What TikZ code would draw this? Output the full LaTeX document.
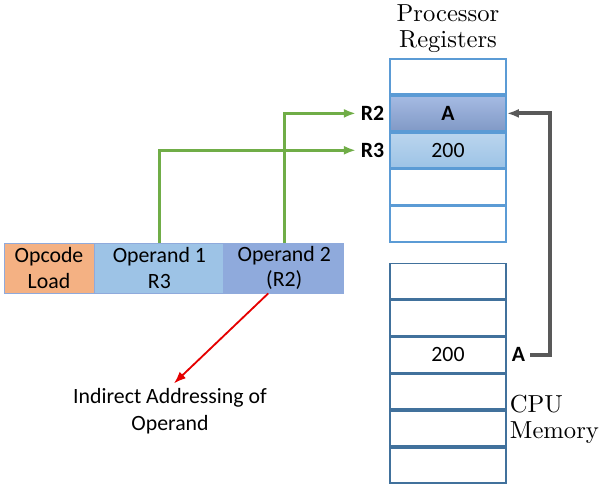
\documentclass[tikz,border=0pt]{standalone}
\usepackage{fontspec}
\newfontfamily\carlito{Carlito}
\newfontfamily\capfont{lmroman10-regular}[Extension=.otf]
\usetikzlibrary{arrows.meta,positioning}
\definecolor{opcodefill}{HTML}{F4B183}
\definecolor{operandA}{HTML}{9DC3E6}
\definecolor{operandB}{HTML}{8FAADC}
\definecolor{fieldline}{HTML}{8FAADC}
\definecolor{regline}{HTML}{5B9BD5}
\definecolor{memline}{HTML}{41719C}
\definecolor{linkgreen}{HTML}{70AD47}
\definecolor{linkgray}{HTML}{595959}

\begin{document}
\begin{tikzpicture}[
  x=0.025cm, y=-0.025cm,
  node distance=0pt,
  field/.style={draw=fieldline, line width=0.6pt, minimum height=1.25cm, align=center, inner sep=1pt, font=\carlito\fontsize{15.5}{18}\selectfont},
  cell/.style={draw=regline, line width=1.2pt, minimum width=2.9cm, minimum height=0.88cm, font=\carlito\fontsize{15.5}{18}\selectfont},
  memcell/.style={cell, draw=memline},
  tag/.style={font=\carlito\bfseries\fontsize{15.5}{18}\selectfont},
  caption/.style={align=center, inner sep=2pt, font=\capfont\fontsize{17.5}{18.5}\selectfont},
  note/.style={align=center, font=\carlito\fontsize{15.5}{19}\selectfont},
  greenlink/.style={->, draw=linkgreen, line width=2.1pt},
  graylink/.style={->, draw=linkgray, line width=2.8pt},
  redlink/.style={->, draw=red!90!black, line width=1.3pt},
  >={Latex[length=3mm]}
]
\useasboundingbox (0,0) rectangle (600,490);

% instruction
\node[field, fill=opcodefill, minimum width=2.25cm] (opc) at (49,268) {Opcode\\Load};
\node[field, fill=operandA, minimum width=3.225cm, right=of opc] (op1) {Operand 1\\R3};
\node[field, fill=operandB, minimum width=2.975cm, right=of op1] (op2) {Operand 2\\(R2)};

% processor registers
\node[cell] (reg1) at (448,76.5) {};
\node[cell, below=of reg1, top color=operandB!80!white, bottom color=operandB!90!black] (reg2) {\bfseries A};
\node[cell, below=of reg2, top color=operandA!70!white, bottom color=operandA] (reg3) {200};
\node[cell, below=of reg3] (reg4) {};
\node[cell, below=of reg4] (reg5) {};
\node[caption, above=2pt of reg1] (regcap) {Processor\\Registers};
\node[tag, left=of reg2] (r2) {R2};
\node[tag, left=of reg3] (r3) {R3};

% cpu memory
\node[memcell] (mem1) at (448,281) {};
\node[memcell, below=of mem1] (mem2) {};
\node[memcell, below=of mem2] (mem3) {200};
\node[memcell, below=of mem3] (mem4) {};
\node[memcell, below=of mem4] (mem5) {};
\node[memcell, below=of mem5] (mem6) {};
\node[tag, right=of mem3] (mema) {A};
\node[caption, align=left, anchor=north west] (memcap) at (mem4.east) {CPU\\Memory};

\node[note] (note) at (170,411) {Indirect Addressing of\\Operand};

\draw[greenlink] (op1.north) |- (r3.west);
\draw[greenlink] (op2.north) |- (r2.west);
\draw[graylink] (mema.east) -- ++(20,0) |- (reg2.east);
\draw[redlink] ([xshift=-0.4cm]op2.south) -- ([xshift=0.1cm]note.north);
\end{tikzpicture}
\end{document}
